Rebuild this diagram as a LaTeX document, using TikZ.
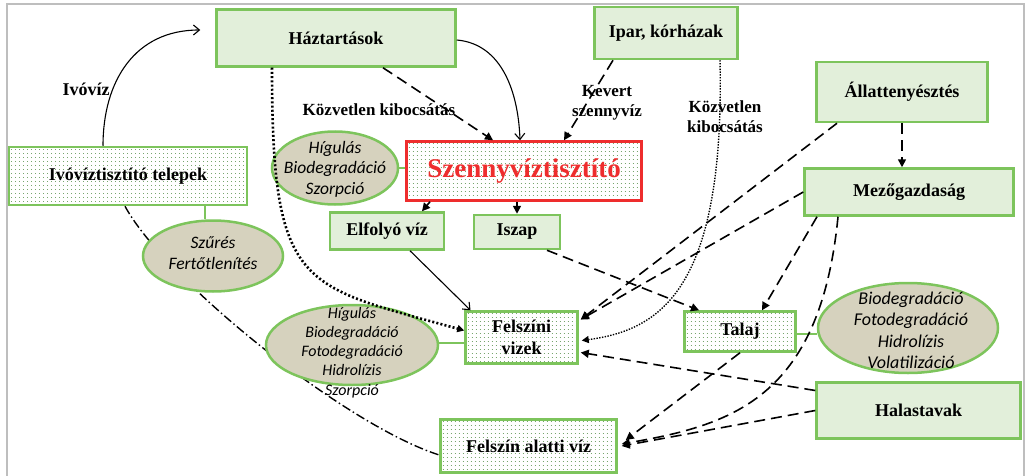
\documentclass[tikz,border=0pt]{standalone}
\usepackage{fontspec}
\setmainfont{Liberation Serif}
\newfontfamily\calib{Carlito}
\usetikzlibrary{shapes.geometric,arrows.meta}
\definecolor{gc}{RGB}{125,196,92}
\definecolor{fc}{RGB}{226,239,218}
\definecolor{ec}{RGB}{214,210,190}
\definecolor{dc}{RGB}{120,165,110}
\definecolor{redc}{RGB}{238,45,45}
\definecolor{framec}{RGB}{190,190,190}

\begin{document}
\begin{tikzpicture}[x=1pt, y=-1pt,
  block/.style = {rectangle, draw=gc, line width=2.5pt, fill=fc, align=center, inner sep=2pt, font=\bfseries\fontsize{18}{21}\selectfont},
  dotblock/.style = {block, fill=white, path picture={
      \foreach \k in {0,...,17}
        \draw[dc, line width=1pt, dash pattern=on 1pt off 3pt]
          ([xshift=2pt,yshift=-\k*4pt-2pt]path picture bounding box.north west) --
          ([yshift=-\k*4pt-2pt]path picture bounding box.north east);}},
  proc/.style = {ellipse, draw=gc, line width=2.5pt, fill=ec, inner sep=0pt},
  ptext/.style = {align=center, inner sep=0pt},
  lbl/.style = {align=center, inner sep=0pt, font=\bfseries\fontsize{17}{20}\selectfont},
  gline/.style = {draw=gc, line width=2pt},
  dar/.style = {-{Triangle[length=8pt,width=8pt]}, line width=1.6pt, dash pattern=on 11pt off 6pt},
  sar/.style = {-{Straight Barb[length=6pt,width=10pt]}, line width=1.1pt},
  hdot/.style = {-{Triangle[length=7pt,width=7pt]}, line width=2.6pt, dash pattern=on 2pt off 2.2pt},
  fdot/.style = {-{Triangle[length=7pt,width=7pt]}, line width=1.4pt, dash pattern=on 1.4pt off 1.4pt},
  ddot/.style = {line width=1.4pt, dash pattern=on 9pt off 3pt on 1.5pt off 3pt}]
  \useasboundingbox (0,0) rectangle (1027,476);
  \draw[framec, line width=2pt] (7,476) -- (7,4) -- (1024,4) -- (1024,476);

  % sources and sinks
  \draw (336,38) node[block, minimum width=239, minimum height=57] (hazt) {Háztartások};
  \draw (666,33) node[block, minimum width=143, minimum height=52] (ipar) {Ipar, kórházak};
  \draw (902,92) node[block, minimum width=171, minimum height=60] (allat) {Állattenyésztés};
  \draw (909,192) node[block, minimum width=209, minimum height=47] (mezo) {Mezőgazdaság};
  \draw (128,176) node[dotblock, minimum width=238, minimum height=58] (ivotel) {Ivóvíztisztító telepek};
  \draw (524,171) node[dotblock, draw=redc, text=redc, minimum width=235, minimum height=59, font=\bfseries\fontsize{27}{30}\selectfont] (szenny) {Szennyvíztisztító};
  \draw (387,231) node[block, minimum width=114, minimum height=37] (elfoly) {Elfolyó víz};
  \draw (517,232) node[block, minimum width=86, minimum height=34] (iszap) {Iszap};
  \draw (521.5,337.5) node[dotblock, minimum width=112, minimum height=52, font=\bfseries\fontsize{18}{22}\selectfont] (felsz) {Felszíni\\vizek};
  \draw (740,331.5) node[dotblock, minimum width=111, minimum height=40] (talaj) {Talaj};
  \draw (918.5,410.5) node[block, minimum width=204, minimum height=56] (hala) {Halastavak};
  \draw (528.5,446) node[dotblock, minimum width=176, minimum height=53] (alatti) {Felszín alatti víz};

  % groundwater to drinking water plants
  \draw[ddot] ([xshift=-3pt]ivotel.south) .. controls (165,280) and (345,425) .. ([yshift=-9pt]alatti.west);

  % processes
  \draw (335,168) node[proc, minimum width=126, minimum height=73] (ehig) {};
  \draw (335,169) node[ptext, font={\calib\itshape\fontsize{17.5}{20.5}\selectfont}] (ehigt) {Hígulás\\Biodegradáció\\Szorpció};
  \draw (213,256) node[proc, minimum width=140, minimum height=71] (eszur) {};
  \draw (213,253.5) node[ptext, font={\calib\itshape\fontsize{17.5}{21}\selectfont}] (eszurt) {Szűrés\\Fertőtlenítés};
  \draw (352,345) node[proc, minimum width=172, minimum height=80] (efel) {};
  \draw (352,352.5) node[ptext, font={\calib\itshape\fontsize{16}{19.2}\selectfont}] (efelt) {Hígulás\\Biodegradáció\\Fotodegradáció\\Hidrolízis\\Szorpció};
  \draw (908,328) node[proc, minimum width=180, minimum height=90] (etal) {};
  \draw (911,330.5) node[ptext, font={\calib\itshape\fontsize{18}{21.5}\selectfont}] (etalt) {Biodegradáció\\Fotodegradáció\\Hidrolízis\\Volatilizáció};

  \draw[gline] (ehig.east) -- (szenny.west |- ehig.east);
  \draw[gline] ([xshift=-8pt]eszur.north) -- ([xshift=-8pt]eszur.north |- ivotel.south);
  \draw[gline] (efel.east |- felsz.west) ++(0,5) -- ([yshift=-5pt]felsz.west);
  \draw[gline] ([yshift=-2pt]talaj.east) -- ([yshift=-2pt]talaj.east -| etal.west);

  % flows
  \draw[sar] ([xshift=-25pt]ivotel.north) to[out=90, in=180, looseness=1.1] ([xshift=-15pt,yshift=8pt]hazt.west);
  \draw[sar] ([yshift=-2pt]hazt.east) to[out=-5, in=92] ([xshift=-4pt]szenny.north);
  \draw[dar] ([xshift=47pt]hazt.south) -- ([xshift=-31pt]szenny.north);
  \draw[hdot] ([xshift=-64pt]hazt.south) .. controls (272,290) and (300,285) .. ([yshift=7pt]felsz.west);
  \draw[dar] ([xshift=-53pt]ipar.south) -- ([xshift=40pt]szenny.north);
  \draw[fdot] ([xshift=54pt]ipar.south) .. controls (725,290) and (660,330) .. ([xshift=3pt,yshift=-3pt]felsz.east);
  \draw[dar] ([xshift=-94pt]szenny.south) -- ([xshift=35pt]elfoly.north);
  \draw[dar] ([xshift=-7pt]szenny.south) -- (iszap.north);
  \draw[sar] ([xshift=23pt]elfoly.south) -- ([xshift=-51pt]felsz.north);
  \draw[dar] ([xshift=30pt]iszap.south) -- ([xshift=-41pt]talaj.north);
  \draw[dar] ([xshift=-65pt]allat.south) -- ([xshift=2pt,yshift=18pt]felsz.east);
  \draw[dar] (mezo.west) -- ([xshift=2pt,yshift=18pt]felsz.east);
  \draw[dar] (allat.south) -- (allat.south |- mezo.north);
  \draw[dar] ([xshift=-92pt]mezo.south) -- ([xshift=22pt]talaj.north);
  \draw[dar] ([xshift=-71pt]mezo.south) .. controls (820,400) and (730,425) .. ([xshift=4pt,yshift=2pt]alatti.east);
  \draw[dar] (talaj.south) -- ([xshift=8pt,yshift=6pt]alatti.east);
  \draw[dar] ([yshift=20pt]hala.west) -- ([xshift=2pt,yshift=-15pt]felsz.east);
  \draw[dar] (hala.west) -- ([xshift=4pt]alatti.east);

  % labels
  \draw (86,89) node[lbl, font=\bfseries\fontsize{18}{21}\selectfont] (livo) {Ivóvíz};
  \draw (379,110) node[lbl] (lkoz) {Közvetlen kibocsátás};
  \draw (607,103) node[lbl] (lkev) {Kevert\\szennyvíz};
  \draw (725,117) node[lbl] (lkoz2) {Közvetlen\\kibocsátás};
\end{tikzpicture}
\end{document}
